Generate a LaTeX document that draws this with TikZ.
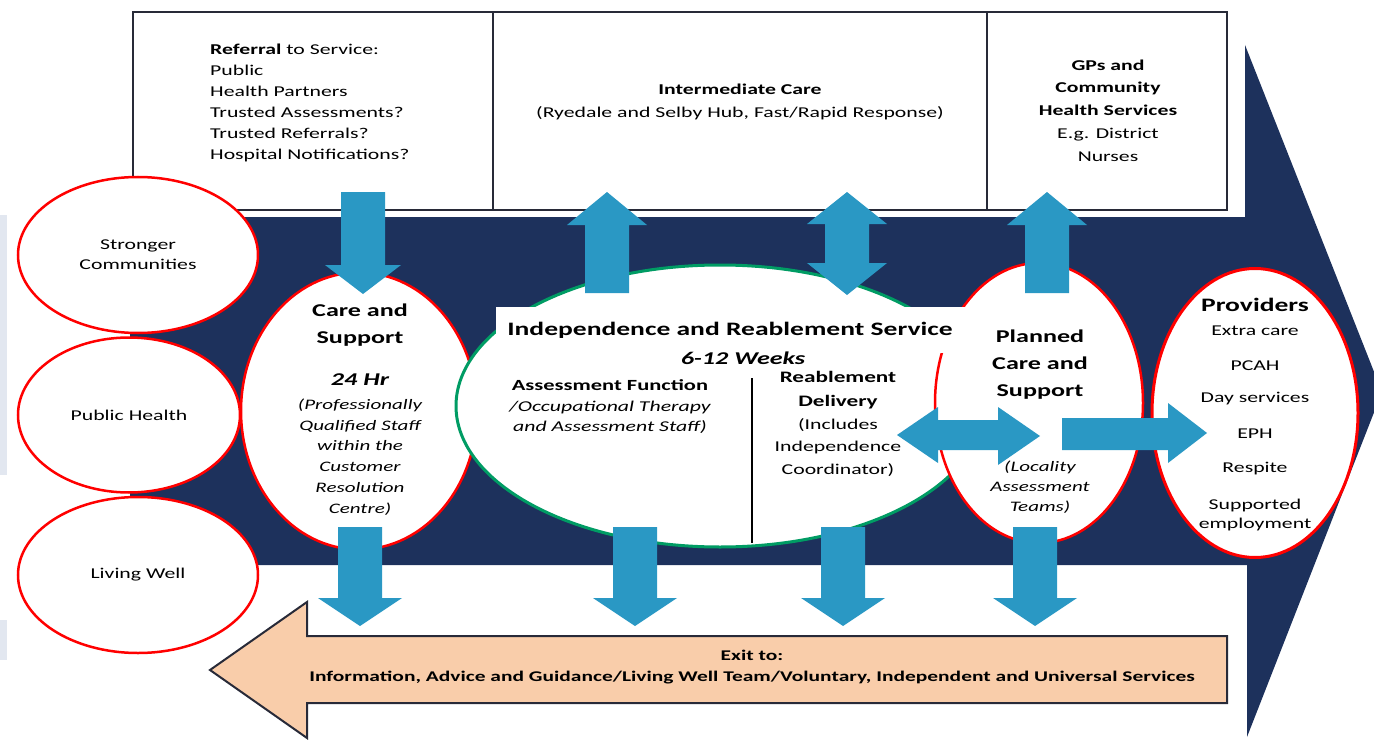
\documentclass[tikz,border=0pt]{standalone}
\usepackage{fontspec}
\setmainfont{Carlito}[FakeStretch=1.45]
\usetikzlibrary{shapes.geometric}
\definecolor{navy}{RGB}{29,49,92}
\definecolor{arrowblue}{RGB}{42,152,196}
\definecolor{peach}{RGB}{249,205,170}
\definecolor{boxgrey}{RGB}{40,42,56}
\definecolor{ringgreen}{RGB}{0,156,100}
\definecolor{stripgrey}{RGB}{226,231,240}
\tikzset{
  redring/.style={ellipse, draw=red, line width=2.5pt, fill=white, inner sep=0pt},
  greenring/.style={ellipse, draw=ringgreen, line width=3pt, fill=white, inner sep=0pt},
  topbox/.style={draw=boxgrey, line width=2pt, fill=white, inner sep=0pt},
  blockarr/.style={fill=arrowblue},
  txt/.style={inner sep=0pt, align=center, font=\fontsize{15}{21}\selectfont},
}

\begin{document}
\begin{tikzpicture}[x=1pt,y=-1pt]
            \useasboundingbox (0,0) rectangle (1374,741);
            \fill[stripgrey] (0,215) rectangle (7,475);
            \fill[stripgrey] (0,620) rectangle (7,660);

            \node[topbox, minimum width=360pt, minimum height=198pt] (referral) at (313,111) {};
            \node[topbox, minimum width=494pt, minimum height=198pt] (intermediate) at (740,111) {};
            \node[topbox, minimum width=240pt, minimum height=198pt] (gps) at (1107,111) {};

            \fill[navy] (130,217) -- (1245,217) -- (1245,45) -- (1382,392) -- (1247,737) -- (1247,565) -- (130,565) -- cycle;
            \draw[draw=boxgrey, line width=2pt, fill=peach] (210,670) -- (307,602) -- (307,636) -- (1227,636) -- (1227,703) -- (307,703) -- (307,738) -- cycle;

            \node[redring, minimum width=240pt, minimum height=156pt, font=\fontsize{15}{20}\selectfont, align=center] (stronger) at (138,255) {Stronger\\Communities};
            \node[redring, minimum width=222pt, minimum height=155pt, font=\fontsize{15}{20}\selectfont] (pubhealth) at (129,415) {Public Health};
            \node[redring, minimum width=240pt, minimum height=156pt, font=\fontsize{15}{20}\selectfont] (living) at (138,575) {Living Well};
            \node[redring, minimum width=236pt, minimum height=277pt] (care) at (359,411) {};
            \node[greenring, minimum width=528pt, minimum height=282pt] (reable) at (720,406) {};
            \node[redring, minimum width=208pt, minimum height=280pt] (planned) at (1039,403) {};
            \node[redring, line width=3pt, minimum width=206pt, minimum height=289pt] (providers) at (1255,413) {};

            \fill[blockarr] (341,192) -- (385,192) -- (385,265) -- (401,265) -- (363,294) -- (325,265) -- (341,265) -- cycle;
            \foreach \x in {607,1047}
                \fill[blockarr] (\x-22,293) -- (\x+22,293) -- (\x+22,225) -- (\x+40,225) -- (\x,192) -- (\x-40,225) -- (\x-22,225) -- cycle;
            \fill[blockarr] (847,192) -- (887,224) -- (869,224) -- (869,263) -- (887,263) -- (847,295) -- (807,263) -- (825,263) -- (825,224) -- (807,224) -- cycle;
            \fill[blockarr] (897,435) -- (938,407) -- (938,420) -- (998,420) -- (998,407) -- (1040,436) -- (998,465) -- (998,450) -- (938,450) -- (938,463) -- cycle;
            \fill[blockarr] (1062,418) -- (1168,418) -- (1168,403) -- (1207,433) -- (1168,463) -- (1168,450) -- (1062,450) -- cycle;
            \foreach \x in {360,635,843,1035}
                \fill[blockarr] (\x-22,527) -- (\x+22,527) -- (\x+22,598) -- (\x+42,598) -- (\x,626) -- (\x-42,598) -- (\x-22,598) -- cycle;

            \node[txt, anchor=west, align=left] (reftxt) at (210,103) {\textbf{Referral} to Service:\\Public\\Health Partners\\Trusted Assessments?\\Trusted Referrals?\\Hospital Notifications?};
            \node[txt, font=\fontsize{15}{23}\selectfont] (imtxt) at (740,101.5) {\textbf{Intermediate Care}\\(Ryedale and Selby Hub, Fast/Rapid Response)};
            \node[txt, font=\fontsize{15}{22.75}\selectfont] (gptxt) at (1108,110.5) {\textbf{GPs and}\\\textbf{Community}\\\textbf{Health Services}\\E.g. District\\Nurses};

            \node[txt, font=\bfseries\fontsize{18}{27}\selectfont] (caretitle) at (360,325.5) {Care and\\Support};
            \node[txt, font=\bfseries\itshape\fontsize{18}{22}\selectfont] (hr) at (360,380) {24 Hr};
            \node[txt, font=\itshape\fontsize{14.5}{20.8}\selectfont] (staff) at (360,457) {(Professionally\\Qualified Staff\\within the\\Customer\\Resolution\\Centre)};

            \node[txt, fill=white, minimum width=469pt, minimum height=46pt, font=\bfseries\fontsize{19}{22}\selectfont] (irs) at (730,330) {Independence and Reablement Service};
            \node[txt, font=\bfseries\itshape\fontsize{18}{22}\selectfont] (weeks) at (743,358) {6-12 Weeks};
            \node[txt, font=\bfseries\fontsize{15.5}{20}\selectfont] (assess) at (610,385) {Assessment Function};
            \node[txt, font=\itshape\fontsize{15}{20}\selectfont] (assessstaff) at (610,417) {/Occupational Therapy\\and Assessment Staff)};
            \draw[line width=2pt] (752,378) -- (752,543);
            \node[txt, font=\bfseries\fontsize{16}{24}\selectfont] (delivery) at (838,390) {Reablement\\Delivery};
            \node[txt, font=\fontsize{15}{22.5}\selectfont] (coordinator) at (838,447.5) {(Includes\\Independence\\Coordinator)};

            \node[txt, font=\bfseries\fontsize{18}{27}\selectfont] (plantitle) at (1040,365) {Planned\\Care and\\Support};
            \node[txt, font=\itshape\fontsize{14.5}{20}\selectfont] (locality) at (1040,487) {(Locality\\Assessment\\Teams)};

            \node[txt, font=\bfseries\fontsize{19}{22}\selectfont] (provtitle) at (1255,305) {Providers};
            \foreach \name/\y/\item in {p1/331/Extra care, p2/366/PCAH, p3/399/Day services, p4/434/EPH, p5/469/Respite}
                \node[txt] (\name) at (1255,\y) {\item};
            \node[txt, font=\fontsize{15}{19}\selectfont] (p6) at (1255,514.5) {Supported\\employment};

            \node[txt, font=\bfseries\fontsize{14.8}{21}\selectfont] (exittxt) at (752,667.5) {Exit to:\\Information, Advice and Guidance/Living Well Team/Voluntary, Independent and Universal Services};
        \end{tikzpicture}
\end{document}
